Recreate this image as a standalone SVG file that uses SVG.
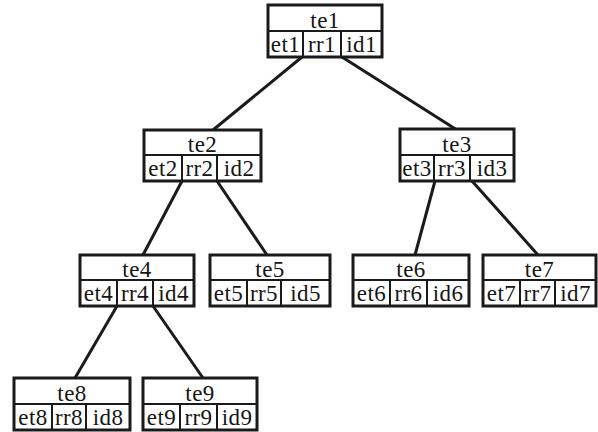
<svg xmlns="http://www.w3.org/2000/svg" width="598" height="432" viewBox="0 0 598 432">
<style>
.o{fill:#fff;stroke:#1a1a1a;stroke-width:3}
.i{stroke:#1a1a1a;stroke-width:2;fill:none}
.c{stroke:#1a1a1a;stroke-width:3;fill:none}
text{font-family:'Liberation Serif','Times New Roman',serif;font-size:23px;fill:#151515;text-anchor:middle;letter-spacing:0.4px}
</style>
<rect width="598" height="432" fill="#fff"/>
<g id="connectors">
<line class="c" x1="302" y1="57" x2="213" y2="130"/>
<line class="c" x1="342" y1="57" x2="457" y2="130"/>
<line class="c" x1="182" y1="181" x2="143" y2="255"/>
<line class="c" x1="217" y1="181" x2="267" y2="255"/>
<line class="c" x1="435" y1="181" x2="415" y2="255"/>
<line class="c" x1="472" y1="181" x2="538" y2="255"/>
<line class="c" x1="117" y1="306" x2="75" y2="378"/>
<line class="c" x1="153" y1="306" x2="203" y2="378"/>
</g>
<g id="te1">
<rect class="o" x="268" y="5" width="114" height="52"/>
<path class="i" d="M268 31H382M303 31V57M341 31V57"/>
<text x="325" y="28">te1</text>
<text x="285.5" y="52">et1</text><text x="322" y="52">rr1</text><text x="361.5" y="52">id1</text>
</g>
<g id="te2">
<rect class="o" x="144" y="130" width="117" height="51"/>
<path class="i" d="M144 155H261M182 155V181M217 155V181"/>
<text x="202.5" y="152">te2</text>
<text x="163" y="176">et2</text><text x="199.5" y="176">rr2</text><text x="239" y="176">id2</text>
</g>
<g id="te3">
<rect class="o" x="400" y="129" width="114" height="52"/>
<path class="i" d="M400 155H514M434 155V181M470 155V181"/>
<text x="457" y="152">te3</text>
<text x="417" y="176">et3</text><text x="452" y="176">rr3</text><text x="492" y="176">id3</text>
</g>
<g id="te4">
<rect class="o" x="80" y="255" width="114" height="51"/>
<path class="i" d="M80 280H194M117 280V306M153 280V306"/>
<text x="137" y="277">te4</text>
<text x="98.5" y="301">et4</text><text x="135" y="301">rr4</text><text x="173.5" y="301">id4</text>
</g>
<g id="te5">
<rect class="o" x="210" y="255" width="120" height="51"/>
<path class="i" d="M210 280H330M247 280V306M281 280V306"/>
<text x="270" y="277">te5</text>
<text x="228.5" y="301">et5</text><text x="264" y="301">rr5</text><text x="305.5" y="301">id5</text>
</g>
<g id="te6">
<rect class="o" x="353" y="255" width="116" height="51"/>
<path class="i" d="M353 280H469M390 280V306M427 280V306"/>
<text x="411" y="277">te6</text>
<text x="371.5" y="301">et6</text><text x="408.5" y="301">rr6</text><text x="448" y="301">id6</text>
</g>
<g id="te7">
<rect class="o" x="483" y="255" width="113" height="51"/>
<path class="i" d="M483 280H596M520 280V306M555 280V306"/>
<text x="539.5" y="277">te7</text>
<text x="501.5" y="301">et7</text><text x="537.5" y="301">rr7</text><text x="575.5" y="301">id7</text>
</g>
<g id="te8">
<rect class="o" x="14" y="378" width="116" height="52"/>
<path class="i" d="M14 404H130M52 404V430M86 404V430"/>
<text x="72" y="401">te8</text>
<text x="33" y="425">et8</text><text x="69" y="425">rr8</text><text x="108" y="425">id8</text>
</g>
<g id="te9">
<rect class="o" x="143" y="378" width="114" height="52"/>
<path class="i" d="M143 404H257M180 404V430M217 404V430"/>
<text x="200" y="401">te9</text>
<text x="161.5" y="425">et9</text><text x="198.5" y="425">rr9</text><text x="237" y="425">id9</text>
</g>
</svg>
